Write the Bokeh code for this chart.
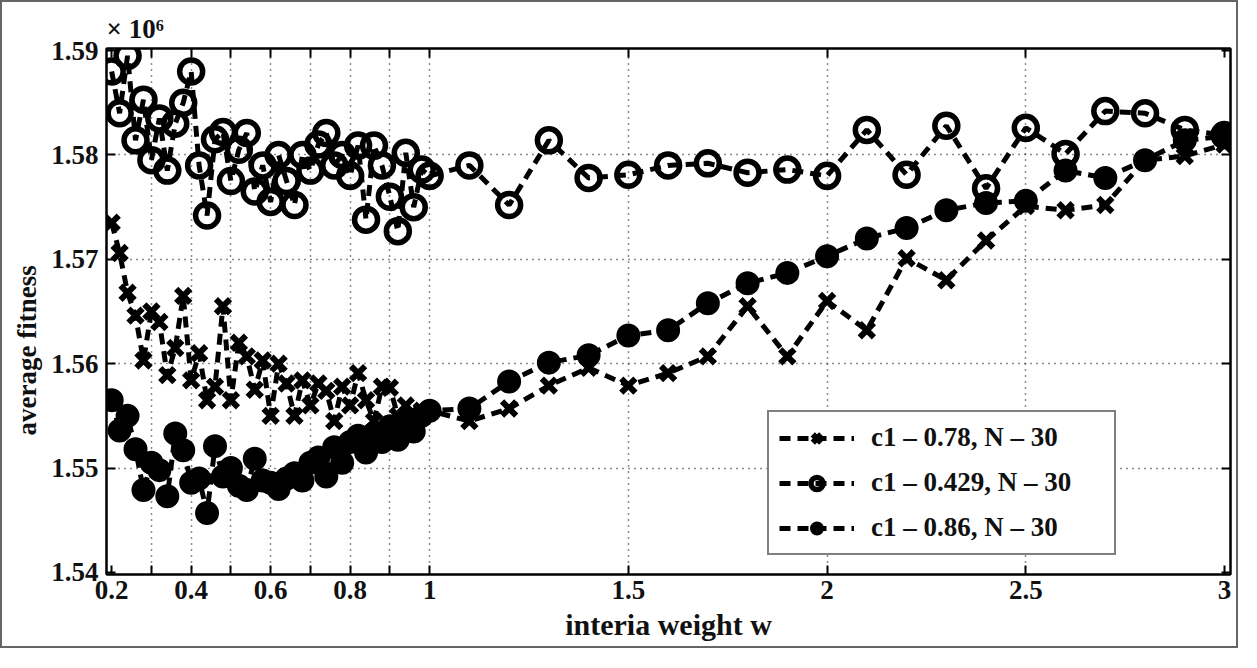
from bokeh.plotting import figure
from bokeh.models import FixedTicker, LinearAxis, Range1d, Legend, LegendItem, Title
from bokeh.embed import file_html
from bokeh.resources import INLINE

# inertia weight values
w = [0.20, 0.22, 0.24, 0.26, 0.28, 0.30, 0.32, 0.34, 0.36, 0.38,
     0.40, 0.42, 0.44, 0.46, 0.48, 0.50, 0.52, 0.54, 0.56, 0.58,
     0.60, 0.62, 0.64, 0.66, 0.68, 0.70, 0.72, 0.74, 0.76, 0.78,
     0.80, 0.82, 0.84, 0.86, 0.88, 0.90, 0.92, 0.94, 0.96, 0.98,
     1.00, 1.10, 1.20, 1.30, 1.40, 1.50, 1.60, 1.70, 1.80, 1.90,
     2.00, 2.10, 2.20, 2.30, 2.40, 2.50, 2.60, 2.70, 2.80, 2.90, 3.00]

# average fitness (x 10^6), c1 = 0.78
fit_078 = [1.5735, 1.5706, 1.5668, 1.5646, 1.5603, 1.5650, 1.5640, 1.5589, 1.5615, 1.5665,
           1.5584, 1.5610, 1.5565, 1.5578, 1.5655, 1.5565, 1.5620, 1.5607, 1.5575, 1.5603,
           1.5550, 1.5600, 1.5581, 1.5550, 1.5584, 1.5560, 1.5581, 1.5574, 1.5545, 1.5578,
           1.5560, 1.5591, 1.5565, 1.5545, 1.5578, 1.5577, 1.5550, 1.5560, 1.5540, 1.5555,
           1.5555, 1.5545, 1.5557, 1.5579, 1.5596, 1.5579, 1.5591, 1.5607, 1.5655, 1.5607,
           1.5660, 1.5632, 1.5701, 1.5680, 1.5718, 1.5751, 1.5747, 1.5752, 1.5795, 1.5799, 1.5810]

# c1 = 0.429
fit_0429 = [1.5880, 1.5840, 1.5895, 1.5814, 1.5853, 1.5795, 1.5835, 1.5785, 1.5830, 1.5850,
            1.5880, 1.5790, 1.5742, 1.5815, 1.5822, 1.5775, 1.5805, 1.5821, 1.5765, 1.5790,
            1.5755, 1.5800, 1.5775, 1.5752, 1.5800, 1.5785, 1.5810, 1.5821, 1.5790, 1.5800,
            1.5780, 1.5809, 1.5738, 1.5809, 1.5790, 1.5760, 1.5727, 1.5802, 1.5750, 1.5786,
            1.5780, 1.5790, 1.5752, 1.5814, 1.5778, 1.5781, 1.5790, 1.5792, 1.5783, 1.5786,
            1.5780, 1.5824, 1.5781, 1.5828, 1.5768, 1.5826, 1.5801, 1.5842, 1.5840, 1.5824, 1.5819]

# c1 = 0.86
fit_086 = [1.5565, 1.5536, 1.5550, 1.5518, 1.5479, 1.5505, 1.5498, 1.5473, 1.5533, 1.5517,
           1.5486, 1.5490, 1.5457, 1.5521, 1.5492, 1.5500, 1.5483, 1.5479, 1.5509, 1.5488,
           1.5486, 1.5480, 1.5490, 1.5495, 1.5488, 1.5505, 1.5510, 1.5492, 1.5520, 1.5505,
           1.5525, 1.5531, 1.5515, 1.5533, 1.5525, 1.5540, 1.5527, 1.5545, 1.5535, 1.5550,
           1.5555, 1.5557, 1.5583, 1.5601, 1.5608, 1.5627, 1.5632, 1.5658, 1.5677, 1.5687,
           1.5703, 1.5720, 1.5730, 1.5747, 1.5754, 1.5756, 1.5785, 1.5778, 1.5795, 1.5814, 1.5818]

labels = ["c1 \u2013 0.78, N \u2013 30", "c1 \u2013 0.429, N \u2013 30", "c1 \u2013 0.86, N \u2013 30"]

x_ticks = [0.2, 0.3, 0.4, 0.5, 0.6, 0.7, 0.8, 0.9, 1.0, 1.5, 2.0, 2.5, 3.0]
x_tick_labels = {0.2: "0.2", 0.3: "", 0.4: "0.4", 0.5: "", 0.6: "0.6", 0.7: "", 0.8: "0.8",
                 0.9: "", 1.0: "1", 1.5: "1.5", 2.0: "2", 2.5: "2.5", 3.0: "3"}
x_grid = [0.3, 0.4, 0.5, 0.6, 0.7, 0.8, 0.9, 1.0, 1.5, 2.0, 2.5]
y_ticks = [1.54, 1.55, 1.56, 1.57, 1.58, 1.59]
y_grid = [1.55, 1.56, 1.57, 1.58]

FONT = "Liberation Serif"
INK = "#111"

p = figure(width=1238, height=648, output_backend="svg", toolbar_location=None,
           x_range=Range1d(0.187, 3.015), y_range=Range1d(1.5398, 1.5902),
           min_border_left=104, min_border_right=10, min_border_top=46, min_border_bottom=76)
p.styles = {"border": "2px solid #666"}
p.background_fill_color = "white"
p.border_fill_color = "white"
p.outline_line_color = "black"
p.outline_line_width = 2

# multiplier shown above the axes
p.title.text = "\u00d7 10\u2076"
p.title.align = "left"
p.title.text_font = FONT
p.title.text_font_style = "bold"
p.title.text_font_size = "27px"
p.title.text_color = INK
p.title.offset = 0
p.title.standoff = 10

# grids
p.xgrid.ticker = FixedTicker(ticks=x_grid)
p.ygrid.ticker = FixedTicker(ticks=y_grid)
for g in (p.xgrid, p.ygrid):
    g.grid_line_color = "black"
    g.grid_line_dash = "1 5"
    g.grid_line_width = 1.5
    g.grid_line_alpha = 0.9

# axes
xa = p.xaxis[0]
xa.ticker = FixedTicker(ticks=x_ticks)
xa.major_label_overrides = x_tick_labels
xa.axis_label = "interia weight w"
ya = p.yaxis[0]
ya.ticker = FixedTicker(ticks=y_ticks)
ya.major_label_overrides = {v: "%.2f" % v for v in y_ticks}

top = LinearAxis(ticker=FixedTicker(ticks=x_ticks))
right = LinearAxis(ticker=FixedTicker(ticks=y_ticks))
p.add_layout(top, "above")
p.add_layout(right, "right")

for ax in (xa, ya, top, right):
    ax.axis_line_color = "black"
    ax.axis_line_width = 2
    ax.major_tick_in = 9
    ax.major_tick_out = 0
    ax.major_tick_line_width = 2
    ax.minor_tick_line_color = None
    ax.major_label_text_font = FONT
    ax.major_label_text_font_style = "bold"
    ax.major_label_text_font_size = "27px"
    ax.major_label_text_color = INK
    ax.axis_label_text_font = FONT
    ax.axis_label_text_font_style = "bold"
    ax.axis_label_text_font_size = "30px"
    ax.axis_label_text_color = INK
xa.major_label_standoff = 6
xa.axis_label_standoff = 6
ya.major_label_standoff = 8
for ax in (top, right):
    ax.major_label_text_color = None
    ax.major_label_standoff = 0

# y-axis label placed as a side title so it can sit a bit below the centre
ylab = Title(text="average fitness", align="left", text_font=FONT, text_font_style="bold",
             text_font_size="27px", text_color=INK, offset=139, standoff=14)
p.add_layout(ylab, "left")

DASH = "11 7"
LW = 5
l1 = p.line(w, fit_078, line_color="black", line_width=LW, line_dash=DASH)
l2 = p.line(w, fit_0429, line_color="black", line_width=LW, line_dash=DASH)
l3 = p.line(w, fit_086, line_color="black", line_width=LW, line_dash=DASH)
s1 = p.scatter(w, fit_078, marker="x", size=20, line_width=6, line_color="black")
s2 = p.scatter(w, fit_0429, marker="circle", size=23, line_width=5.5, line_color="black", fill_color=None)
s3 = p.scatter(w, fit_086, marker="circle", size=22, line_width=2, line_color="black", fill_color="black")

legend = Legend(items=[LegendItem(label=labels[0], renderers=[l1, s1]),
                       LegendItem(label=labels[1], renderers=[l2, s2]),
                       LegendItem(label=labels[2], renderers=[l3, s3])],
                location=(661, 19))
legend.border_line_color = "black"
legend.border_line_width = 2
legend.background_fill_color = "white"
legend.background_fill_alpha = 1
legend.label_text_font = FONT
legend.label_text_font_style = "bold"
legend.label_text_font_size = "27px"
legend.label_text_color = INK
legend.glyph_width = 75
legend.glyph_height = 30
legend.label_height = 30
legend.label_width = 233
legend.label_standoff = 17
legend.spacing = 14
legend.padding = 10
legend.margin = 0
p.add_layout(legend, "center")

open("out.html", "w").write(file_html(p, INLINE))
